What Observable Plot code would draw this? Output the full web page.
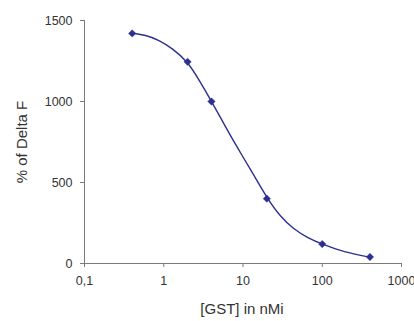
<!DOCTYPE html>
<html>
<head>
<meta charset="utf-8">
<script src="https://cdn.jsdelivr.net/npm/d3@7"></script>
<script src="https://cdn.jsdelivr.net/npm/@observablehq/plot@0.6"></script>
<style>
  html, body { margin: 0; padding: 0; background: #fff; }
  #chart svg { display: block; }
</style>
</head>
<body>
<div id="chart"></div>
<script>
// Measured data points
const concentrations = [0.4, 2, 4, 20, 100, 400];
const deltaF = [1420, 1245, 1000, 400, 120, 40];

// Fitted curve
const curveX = [0.39, 0.59, 0.87, 1.28, 2, 2.77, 4, 6, 8.85, 13.1, 20, 29.7, 43.7, 64.6, 100, 187, 400];
const curveY = [1424, 1410, 1380, 1328, 1247, 1135, 1002, 845, 700, 562, 405, 288, 212, 160, 119, 70, 39];

// Axis ticks
const xTicks = [0.1, 1, 10, 100, 1000];
const xTickLabels = ["0,1", "1", "10", "100", "1000"];
const yTicks = [0, 500, 1000, 1500];
const yTickLabels = ["0", "500", "1000", "1500"];

const points = concentrations.map((c, i) => ({x: c, y: deltaF[i]}));
const curve = curveX.map((c, i) => ({x: c, y: curveY[i]}));

const color = "#2b3090";
const axisColor = "#7a7a7a";
const textColor = "#333";

const chart = Plot.plot({
  width: 414,
  height: 321,
  marginLeft: 84,
  marginRight: 13,
  marginTop: 20,
  marginBottom: 58,
  style: {fontFamily: "'Liberation Sans', Arial, sans-serif", fontSize: "12.5px", color: textColor, background: "#fff"},
  x: {type: "log", domain: [0.1, 1000]},
  y: {domain: [0, 1500]},
  marks: [
    Plot.ruleY([0], {stroke: axisColor, strokeWidth: 1}),
    Plot.ruleX([0.1], {y1: 0, y2: 1500, stroke: axisColor, strokeWidth: 1}),
    Plot.axisX({
      ticks: xTicks,
      tickFormat: (d) => xTickLabels[xTicks.indexOf(d)],
      tickSize: 4,
      tickPadding: 9,
      stroke: axisColor,
      fill: textColor,
      label: null
    }),
    Plot.axisY({
      ticks: yTicks,
      tickFormat: (d) => yTickLabels[yTicks.indexOf(d)],
      tickSize: 4,
      tickPadding: 8,
      stroke: axisColor,
      fill: textColor,
      label: null
    }),
    Plot.line(curve, {x: "x", y: "y", curve: "basis", stroke: color, strokeWidth: 1.4}),
    Plot.dot(points, {x: "x", y: "y", symbol: "diamond2", r: 3.3, fill: color, stroke: color, strokeWidth: 0.5})
  ]
});

// Axis titles as SVG text
const ns = "http://www.w3.org/2000/svg";
function addText(txt, x, y, rotate) {
  const t = document.createElementNS(ns, "text");
  t.textContent = txt;
  t.setAttribute("text-anchor", "middle");
  t.setAttribute("font-size", "15px");
  t.setAttribute("fill", textColor);
  if (rotate) t.setAttribute("transform", `translate(${x},${y}) rotate(-90)`);
  else { t.setAttribute("x", x); t.setAttribute("y", y); }
  chart.appendChild(t);
}
addText("[GST] in nMi", 242, 314, false);
addText("% of Delta F", 27, 142, true);

document.getElementById("chart").appendChild(chart);
</script>
</body>
</html>
